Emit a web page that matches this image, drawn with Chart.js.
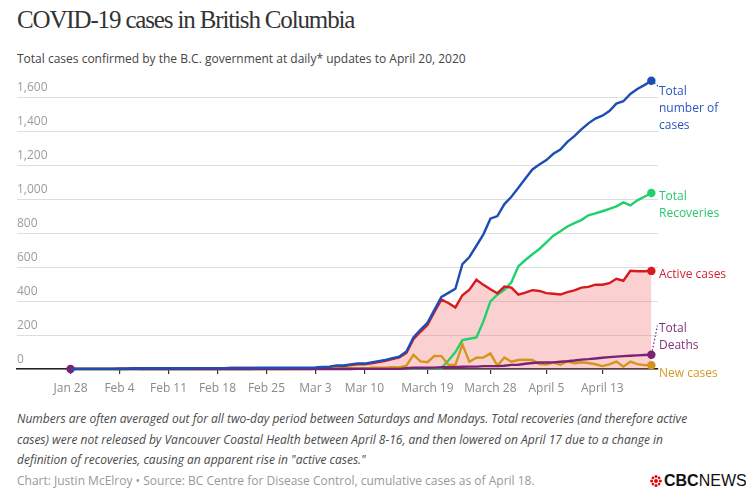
<!DOCTYPE html>
<html><head><meta charset="utf-8">
<script src="https://cdn.jsdelivr.net/npm/chart.js@4.4.1/dist/chart.umd.min.js"></script>
<style>
html,body{margin:0;padding:0;background:#fff;width:746px;height:497px;overflow:hidden;font-family:'Open Sans',sans-serif}
#title{position:absolute;left:17px;top:6px;font-family:'Liberation Serif',serif;font-size:25px;color:#333;letter-spacing:-1.15px;white-space:nowrap}
#sub{position:absolute;left:17px;top:50px;font-size:12px;color:#444;white-space:nowrap}
#wrap{position:absolute;left:0;top:0;width:746px;height:400px}
#note{position:absolute;left:17px;top:409px;font-style:italic;font-size:12px;line-height:20.5px;color:#4a4a4a;white-space:nowrap}
#credit{position:absolute;left:17px;top:472px;font-size:12px;color:#999;white-space:nowrap}
#logo{position:absolute;left:650px;top:472px;font-family:'Liberation Sans Narrow','Liberation Sans',sans-serif;font-size:16px;color:#111;white-space:nowrap;display:flex;align-items:center;gap:2px}
</style></head>
<body>
<div id="title">COVID-19 cases in British Columbia</div>
<div id="sub">Total cases confirmed by the B.C. government at daily* updates to April 20, 2020</div>
<div id="wrap"><canvas id="c" width="746" height="400"></canvas></div>
<div id="note">Numbers are often averaged out for all two-day period between Saturdays and Mondays. Total recoveries (and therefore active<br>cases) were not released by Vancouver Coastal Health between April 8-16, and then lowered on April 17 due to a change in<br>definition of recoveries, causing an apparent rise in "active cases."</div>
<div id="credit">Chart: Justin McElroy • Source: BC Centre for Disease Control, cumulative cases as of April 18.</div>
<div id="logo"><svg width="12" height="12" viewBox="0 0 12 12"><g fill="#e60505"><circle cx="6" cy="6" r="2"/><circle cx="6" cy="1.6" r="1.5"/><circle cx="6" cy="10.4" r="1.5"/><circle cx="1.6" cy="6" r="1.5"/><circle cx="10.4" cy="6" r="1.5"/><circle cx="2.9" cy="2.9" r="1.3"/><circle cx="9.1" cy="2.9" r="1.3"/><circle cx="2.9" cy="9.1" r="1.3"/><circle cx="9.1" cy="9.1" r="1.3"/></g></svg><span><b>CBC</b>NEWS</span></div>
<script>
// Day 0 = Jan 28, 2020 ... day 83 = April 20, 2020
const totalCases = [1,1,1,1,1,1,1,2,2,4, 4,4,4,4,4,4,4,5,5,5, 5,5,5,6,6,6,6,7,7,7,
  7,7,8,8,8,9,12,13,21,21, 27,32,32,39,46,53,64,73,103,186, 231,271,348,424,448,472,617,659,725,792,
  884,900,970,1013,1066,1121,1174,1203,1229,1266, 1291,1336,1370,1410,1445,1473,1490,1517,1561,1575,
  1618,1647,1670,1696];
const recoveries = [0,0,0,0,0,0,0,0,0,0, 0,0,0,0,0,0,0,0,0,0, 0,0,0,0,0,0,0,3,3,3,
  3,3,3,3,3,3,3,4,4,4, 4,4,4,4,4,4,4,4,4,4, 5,5,5,6,50,100,170,178,186,280,
  398,437,466,510,604,641,675,706,745,784, 810,838,858,876,904,915,928,942,957,980,
  962,992,1013,1035];
const activeCases = [1,1,1,1,1,1,1,2,2,4, 4,4,4,4,4,4,4,5,5,5, 5,5,5,6,6,6,6,4,4,4,
  4,4,5,5,5,6,9,9,17,17, 23,27,27,34,41,48,59,68,95,175, 219,259,335,408,388,362,434,467,525,495,
  469,446,485,479,437,449,464,459,446,443, 438,452,462,479,483,496,496,505,531,519,
  578,575,575,577];
const deaths = [0,0,0,0,0,0,0,0,0,0, 0,0,0,0,0,0,0,0,0,0, 0,0,0,0,0,0,0,0,0,0,
  0,0,0,0,0,0,0,0,0,0, 0,1,1,1,1,1,1,1,4,7, 7,7,8,10,10,10,13,14,14,17,
  17,17,19,24,25,31,35,38,38,39, 43,46,50,55,58,62,66,70,73,76,
  78,80,82,84];
const newCases = [1,0,0,0,0,0,0,1,0,2, 0,0,0,0,0,0,0,1,0,0, 0,0,0,1,0,0,0,1,0,0,
  0,0,1,0,0,1,3,1,8,0, 6,5,0,7,7,7,11,9,20,83, 45,40,77,76,24,24,145,42,66,67,
  92,20,68,43,53,55,53,29,26,37, 25,45,34,40,35,28,17,27,44,14,
  43,29,23,22];
const dayNumbers = totalCases.map((_, i) => i);
const tickDays = [0,7,14,21,28,35,42,51,60,68,76];
const tickLabels = ['Jan 28','Feb 4','Feb 11','Feb 18','Feb 25','Mar 3','Mar 10','March 19','March 28','April 5','April 13'];
const yTicks = [0,200,400,600,800,1000,1200,1400,1600];

const C = {blue:'#1d4eb5', green:'#1fd16c', red:'#d9191e', purple:'#7a2275', orange:'#d4951b'};
const last = totalCases.length - 1;
const endPt = (r) => (ctx) => ctx.dataIndex === last ? r : 0;

Chart.defaults.font.family = "'Open Sans', sans-serif";

function ds(label, data, color, extra) {
  return Object.assign({label, data, borderColor: color, backgroundColor: color, borderWidth: 2.4,
    pointRadius: endPt(4.2), pointHoverRadius: 0, pointBackgroundColor: color, pointBorderWidth: 0,
    tension: 0, fill: false, clip: false}, extra || {});
}

const endLabels = {
  id: 'endLabels',
  afterDatasetsDraw(chart) {
    const {ctx, scales: {x, y}} = chart;
    const items = [
      {ds: 0, lines: ['Total', 'number of', 'cases'], color: '#2a55bb', dy: 11},
      {ds: 4, lines: ['Total', 'Recoveries'], color: '#25c96a', dy: 3.5},
      {ds: 3, lines: ['Active cases'], color: '#cf2330', dy: 4},
      {ds: 1, lines: ['Total', 'Deaths'], color: '#7d3379', dy: -26},
      {ds: 2, lines: ['New cases'], color: '#d39a22', dy: 8.5},
    ];
    const lx = x.right + 1;
    ctx.save();
    ctx.font = "12px 'Open Sans', sans-serif";
    ctx.textBaseline = 'middle';
    ctx.textAlign = 'left';
    items.forEach(it => {
      const v = chart.data.datasets[it.ds].data[last];
      const py = y.getPixelForValue(v);
      ctx.fillStyle = it.color;
      it.lines.forEach((t, i) => ctx.fillText(t, lx, py + it.dy + i * 17));
    });
    // dotted leaders
    const px = x.getPixelForValue(last);
    ctx.setLineDash([1.5, 2]);
    ctx.lineWidth = 1.2;
    ctx.strokeStyle = C.blue;
    let py = y.getPixelForValue(totalCases[last]);
    ctx.beginPath(); ctx.moveTo(px + 3, py + 2); ctx.lineTo(px + 7, py + 6); ctx.stroke();
    ctx.strokeStyle = C.purple;
    py = y.getPixelForValue(deaths[last]);
    ctx.beginPath(); ctx.moveTo(px + 1, py - 4); ctx.lineTo(px + 6, py - 29); ctx.stroke();
    ctx.restore();
  }
};

new Chart(document.getElementById('c'), {
  type: 'line',
  data: {
    labels: dayNumbers,
    datasets: [
      ds('Total number of cases', totalCases, C.blue),
      ds('Total Deaths', deaths, C.purple, {pointRadius: (ctx) => (ctx.dataIndex === last || ctx.dataIndex === 0) ? 4.2 : 0}),
      ds('New cases', newCases, C.orange),
      ds('Active cases', activeCases, C.red, {fill: 'origin', backgroundColor: 'rgba(242,112,112,0.33)'}),
      ds('Total Recoveries', recoveries, C.green),
    ]
  },
  options: {
    responsive: false,
    animation: false,
    events: [],
    layout: {padding: {left: 17, right: 88, top: 80, bottom: 1}},
    plugins: {legend: {display: false}, tooltip: {enabled: false}, filler: {drawTime: 'beforeDatasetsDraw'}},
    scales: {
      x: {
        type: 'linear', min: -7.65, max: 83.95,
        afterBuildTicks: (s) => { s.ticks = tickDays.map(v => ({value: v})); },
        afterFit: (s) => { s.height = 30; },
        ticks: {autoSkip: false, maxRotation: 0, color: '#8a8a8a', font: {size: 12}, padding: 7,
          callback: (v, i) => tickLabels[i]},
        grid: {drawOnChartArea: false, drawTicks: true, tickLength: 5, color: '#333', lineWidth: 1.2},
        border: {display: true, color: '#222', width: 1.5}
      },
      y: {
        min: 0, max: 1700,
        afterBuildTicks: (s) => { s.ticks = yTicks.map(v => ({value: v})); },
        afterFit: (s) => { s.width = 0; },
        ticks: {mirror: true, padding: 0, labelOffset: -9, color: '#9c9c9c', font: {size: 12},
          callback: (v) => v.toLocaleString('en-US')},
        grid: {color: '#dddddd', lineWidth: 1, drawTicks: false},
        border: {display: false}
      }
    }
  },
  plugins: [endLabels]
});
</script>
</body></html>
